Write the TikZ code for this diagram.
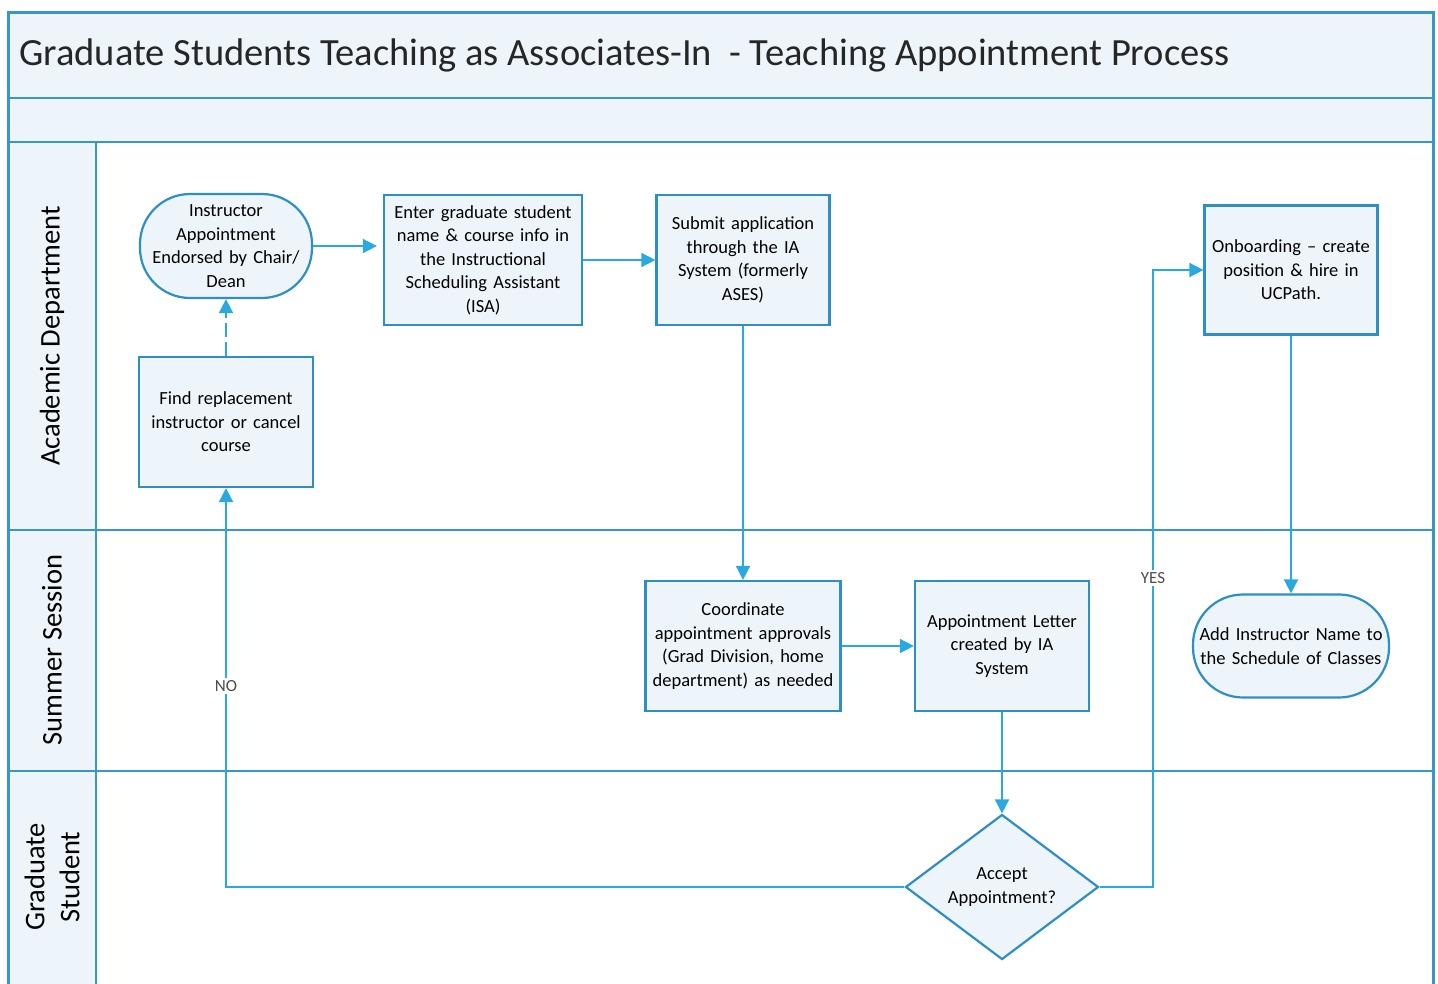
\documentclass[tikz,border=0pt]{standalone}
\usepackage{fontspec}
\setmainfont{Carlito}
\usetikzlibrary{arrows.meta,shapes.geometric}
\definecolor{laneblue}{HTML}{3896C8}
\definecolor{boxblue}{HTML}{2F8FC4}
\definecolor{arrowblue}{HTML}{2AA9E0}
\definecolor{lightfill}{HTML}{EEF5FA}
\tikzset{
  x=1pt,y=-1pt,
  proc/.style={draw=boxblue,line width=2.2pt,fill=lightfill,align=center,inner sep=2pt,
    font=\fontsize{18.5}{23.5}\selectfont},
  term/.style={proc,rounded corners=50pt},
  decis/.style={draw=boxblue,line width=2.2pt,fill=lightfill,diamond,align=center,inner sep=0pt,
    font=\fontsize{18.5}{23.5}\selectfont},
  flow/.style={draw=arrowblue,line width=1.6pt,-{Triangle[length=14pt,width=14pt]}},
  lanelabel/.style={rotate=90,align=center,font=\fontsize{28.5}{35}\selectfont},
  edgelabel/.style={fill=white,inner sep=2pt,text=black!70,font=\fontsize{17}{20}\selectfont},
}
\begin{document}
\begin{tikzpicture}
\useasboundingbox (0,0) rectangle (1438,983);
\clip (0,0) rectangle (1438,983);
% frame and lanes
\fill[lightfill] (8,12) rectangle (1433,142);
\fill[lightfill] (8,142) rectangle (96,1000);
\fill[white] (96,142) rectangle (1433,1000);
\draw[laneblue,line width=3pt] (8,12) rectangle (1433,1000);
\draw[laneblue,line width=2.5pt] (8,98) -- (1433,98);
\draw[laneblue,line width=2.5pt] (8,142) -- (1433,142);
\draw[laneblue,line width=2.5pt] (8,530) -- (1433,530);
\draw[laneblue,line width=2.5pt] (8,771) -- (1433,771);
\draw[laneblue,line width=2.5pt] (96,142) -- (96,1000);
\node[anchor=west,inner sep=0pt,font=\fontsize{38.5}{44}\selectfont,text=black!85] (title) at (19,55)
  {Graduate Students Teaching as Associates-In\ \ - Teaching Appointment Process};
\node[lanelabel] (lane1) at (52,336) {Academic Department};
\node[lanelabel] (lane2) at (52,650) {Summer Session};
\node[lanelabel] (lane3) at (52,877) {Graduate\\Student};
% nodes
\node[term,minimum width=172pt,minimum height=104pt,text width=168pt] (endorse) at (226,246)
  {Instructor\\Appointment\\Endorsed by Chair/\\Dean};
\node[proc,minimum width=198pt,minimum height=130pt,text width=194pt] (enter) at (483,260)
  {Enter graduate student\\name \& course info in\\the Instructional\\Scheduling Assistant\\(ISA)};
\node[proc,minimum width=173pt,minimum height=130pt,text width=169pt] (submit) at (743,260)
  {Submit application\\through the IA\\System (formerly\\ASES)};
\node[proc,minimum width=174pt,minimum height=130pt,text width=170pt] (find) at (226,422)
  {Find replacement\\instructor or cancel\\course};
\node[proc,minimum width=173pt,minimum height=129pt,text width=169pt] (onboard) at (1291,270)
  {Onboarding -- create\\position \& hire in\\UCPath.};
\node[proc,minimum width=195pt,minimum height=130pt,text width=191pt] (coord) at (743,646)
  {Coordinate\\appointment approvals\\(Grad Division, home\\department) as needed};
\node[proc,minimum width=174pt,minimum height=130pt,text width=170pt] (letter) at (1002,646)
  {Appointment Letter\\created by IA\\System};
\node[term,minimum width=196pt,minimum height=103pt,text width=192pt] (addname) at (1291,646)
  {Add Instructor Name to\\the Schedule of Classes};
\node[decis,minimum width=193pt,minimum height=145pt,aspect=1.33] (accept) at (1002,887)
  {Accept\\Appointment?};
% connectors
\draw[flow,shorten >=6pt] (endorse.east) -- (enter.west |- endorse.east);
\draw[flow] (enter.east |- submit.west) -- (submit.west);
\draw[flow] (submit.south) -- (coord.north);
\draw[flow] (coord.east) -- (letter.west);
\draw[flow] (letter.south) -- (accept.north);
\draw[flow] (onboard.south) -- (addname.north);
\draw[flow,dash pattern=on 14pt off 5pt] (find.north) -- (endorse.south);
\coordinate (nocorner) at (find.south |- accept.west);
\coordinate (yescorner) at (1153,887);
\coordinate (yestop) at (1153,270);
\draw[flow] (accept.west) -- (nocorner) -- (find.south);
\node[edgelabel] (nolabel) at (226,686) {NO};
\draw[flow] (accept.east) -- (yescorner) -- (yestop) -- (onboard.west);
\node[edgelabel] (yeslabel) at (1153,578) {YES};
\end{tikzpicture}
\end{document}
